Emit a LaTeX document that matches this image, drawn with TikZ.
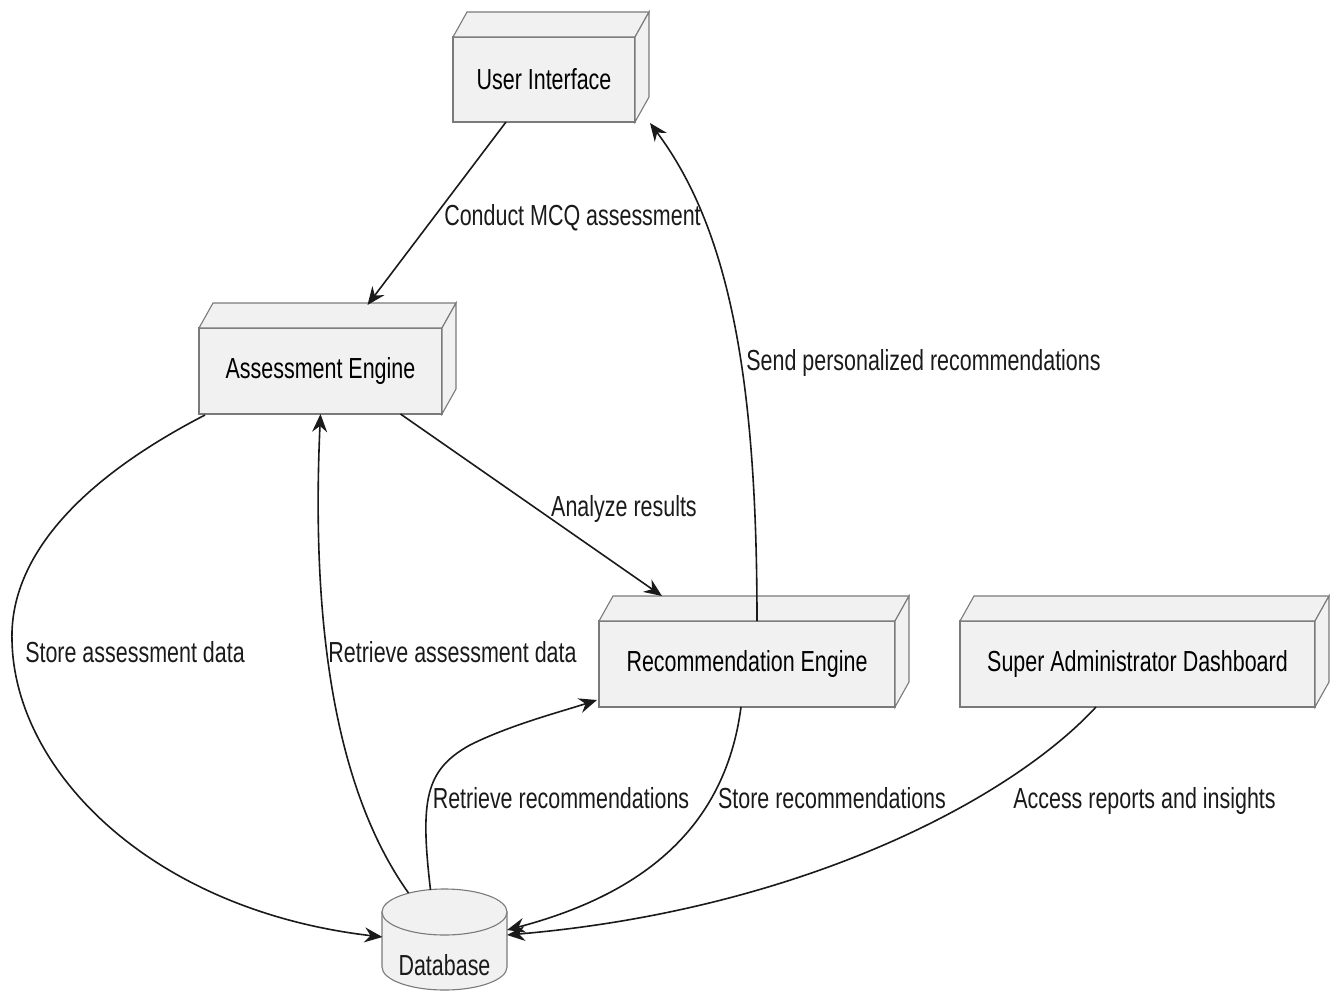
\documentclass[tikz,border=0pt]{standalone}
\usepackage{fontspec}
\setmainfont[FakeStretch=0.74]{Liberation Sans}
\usepackage{tikz}
\usetikzlibrary{arrows.meta}
\usetikzlibrary{calc}
\definecolor{boxfill}{HTML}{F1F1F1}
\definecolor{boxline}{HTML}{7A7A7A}
\definecolor{wire}{HTML}{1A1A1A}
\newcommand{\boxdepth}[1]{%
    \path (#1.north west) ++(14,-25) coordinate (#1-tl)
          (#1.north east) ++(14,-25) coordinate (#1-tr)
          (#1.south east) ++(14,-25) coordinate (#1-br);
    \filldraw[face] (#1.north west) -- (#1-tl) -- (#1-tr) -- (#1.north east) -- cycle;
    \filldraw[face] (#1.north east) -- (#1-tr) -- (#1-br) -- (#1.south east) -- cycle;
}
\newcommand{\dbcylinder}[1]{%
    \filldraw[face] ($(#1)+(-62.5,0)$) -- ($(#1)+(-62.5,55)$)
        arc[start angle=180, end angle=360, x radius=62.5pt, y radius=23pt]
        -- ($(#1)+(62.5,0)$) -- cycle;
    \filldraw[face] (#1) ellipse [x radius=62.5pt, y radius=23pt];
}

\begin{document}
\begin{tikzpicture}[x=1pt, y=-1pt,
                    font=\fontsize{29}{33}\selectfont,
                    face/.style={draw=boxline, fill=boxfill, line width=1.1pt},
                    comp/.style={draw=boxline, fill=boxfill, line width=1.1pt,
                                 minimum height=86pt, outer sep=0pt, inner sep=0pt},
                    flow/.style={draw=wire, line width=1.6pt,
                                 -{Stealth[length=18pt, width=15pt, inset=6pt]}},
                    lbl/.style={text=wire, inner sep=0pt, anchor=base}]

    \useasboundingbox (0,0) rectangle (1331,991);

    \node[comp, minimum width=182pt, minimum height=85pt] (ui) at (544,79.5) {User Interface};
    \node[comp, minimum width=243pt] (ae)  at (320.5,371) {Assessment Engine};
    \node[comp, minimum width=296pt] (re)  at (747,664)   {Recommendation Engine};
    \node[comp, minimum width=355pt] (sad) at (1137.5,664) {Super Administrator Dashboard};
    \boxdepth{ui}
    \boxdepth{ae}
    \boxdepth{re}
    \boxdepth{sad}

    \coordinate (dbc) at (444.5,912);
    \dbcylinder{dbc}
    \node[text=wire, inner sep=0pt] (db) at (444.5,965) {Database};

    \draw[flow] ($(ui.south)+(-38,0)$) -- ($(ae.north)+(47,-23)$);
    \draw[flow] ($(ae.south)+(80,0)$) -- ($(re.north)+(-85,-25)$);
    \draw[flow] ($(re.north)+(10,0)$) .. controls ($(re.north)+(10,-240)$)
        and ($(ui.south east)+(95,108)$) .. ($(ui.south east)+(15,1)$);
    \draw[flow] ($(ae.south west)+(6,1)$) .. controls (60,490) and (10,570) .. (12,640)
        .. controls (14,770) and (150,910) .. ($(dbc)+(-62,25)$);
    \draw[flow] ($(dbc)+(-36,-19)$) .. controls (328,780) and (312,600) .. (ae.south);
    \draw[flow] ($(dbc)+(-14,-22)$) .. controls (420,800) and (425,770) .. (470,745)
        .. controls (510,725) and (560,712) .. ($(re.south west)+(-2,-7)$);
    \draw[flow] ($(re.south)+(-6,0)$) .. controls (725,830) and (640,895) .. ($(dbc)+(62.5,18)$);
    \draw[flow] ($(sad.south)+(-41.5,0)$) .. controls (1010,800) and (800,910) .. ($(dbc)+(62.5,23)$);

    \node[lbl] (conduct)  at (572.5,225) {Conduct MCQ assessment};
    \node[lbl] (send)     at (923.5,370) {Send personalized recommendations};
    \node[lbl] (analyze)  at (624,516)   {Analyze results};
    \node[lbl] (storeasm) at (135,662)   {Store assessment data};
    \node[lbl] (getasm)   at (452.5,662) {Retrieve assessment data};
    \node[lbl] (getrec)   at (561,808)   {Retrieve recommendations};
    \node[lbl] (storerec) at (832,808)   {Store recommendations};
    \node[lbl] (access)   at (1144.5,808) {Access reports and insights};
\end{tikzpicture}
\end{document}
